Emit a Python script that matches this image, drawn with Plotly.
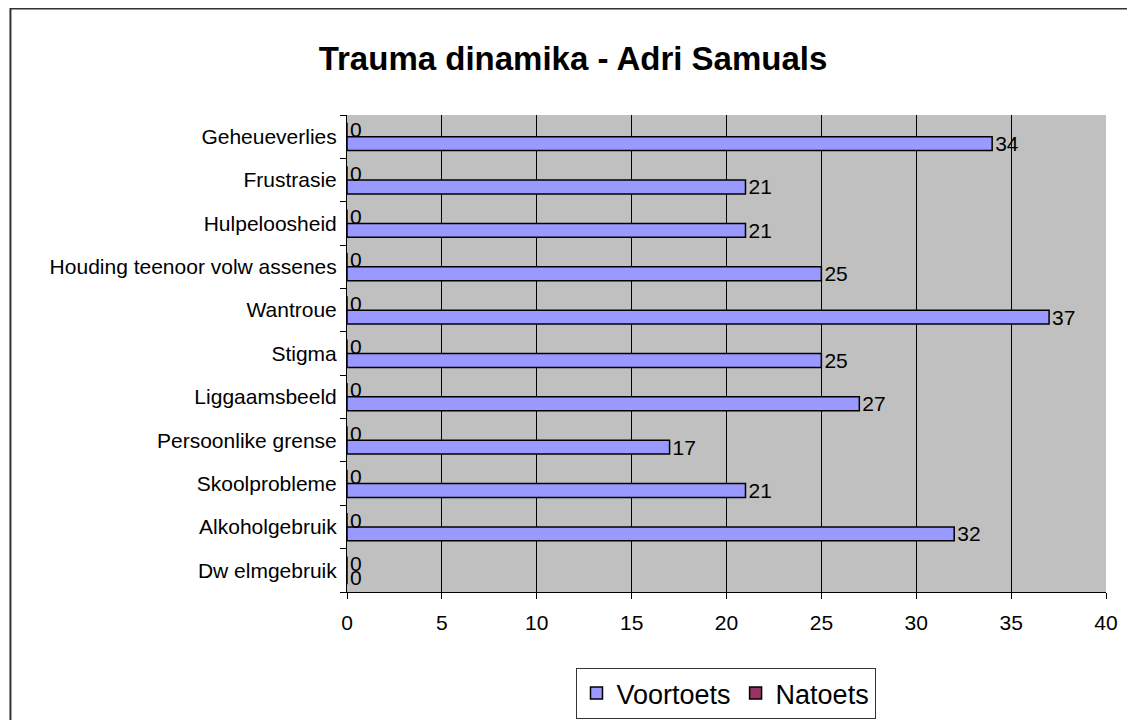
import plotly.graph_objects as go

categories = ["Geheueverlies", "Frustrasie", "Hulpeloosheid", "Houding teenoor volw assenes",
              "Wantroue", "Stigma", "Liggaamsbeeld", "Persoonlike grense",
              "Skoolprobleme", "Alkoholgebruik", "Dw elmgebruik"]
voortoets = [34, 21, 21, 25, 37, 25, 27, 17, 21, 32, 0]
natoets = [0, 0, 0, 0, 0, 0, 0, 0, 0, 0, 0]
x_ticks = [0, 5, 10, 15, 20, 25, 30, 35, 40]

OFF = 8  # page body offset
W, H = 1135 - OFF, 720 - OFF
L, R, T, B = 346.5 - OFF, 1106.5 - OFF, 115 - OFF, 592 - OFF
FONT = "Liberation Sans, Arial, sans-serif"

fig = go.Figure()
fig.add_trace(go.Bar(
    name="Voortoets", y=categories, x=voortoets, orientation="h",
    marker=dict(color="#9999FF", line=dict(color="black", width=1.5)),
    text=[str(v) for v in voortoets], textposition="outside", cliponaxis=False,
    textfont=dict(size=21, color="black", family=FONT), constraintext="none",
))
fig.add_trace(go.Bar(
    name="Natoets", y=categories, x=natoets, orientation="h",
    marker=dict(color="#993366", line=dict(color="black", width=1.5)),
    text=[str(v) for v in natoets], textposition="outside", cliponaxis=False,
    textfont=dict(size=21, color="black", family=FONT), constraintext="none",
))

pw, ph = R - L, B - T
fig.update_layout(
    width=W, height=H,
    margin=dict(l=L, r=W - R, t=T, b=H - B, autoexpand=False),
    paper_bgcolor="white", plot_bgcolor="#C0C0C0",
    barmode="group", bargap=0.36, bargroupgap=0,
    font=dict(family=FONT, size=21, color="black"),
    title=dict(text="<b>Trauma dinamika - Adri Samuals</b>", x=(573 - OFF) / W, xanchor="center",
               xref="container", yref="container", y=1 - (58 - OFF) / H, yanchor="middle",
               font=dict(size=33, family=FONT, color="black")),
    legend=dict(orientation="h", x=(725.5 - OFF - L) / pw, xanchor="center",
                y=(B - (668 - OFF)) / ph, yanchor="top", bordercolor="#333333", borderwidth=1,
                font=dict(size=27, family=FONT), traceorder="normal"),
    showlegend=True,
    shapes=[dict(type="rect", xref="paper", yref="paper",
                 x0=(1.5 - L) / pw, x1=(W + 20 - L) / pw,
                 y0=(B - (H + 20)) / ph, y1=(B - 0.5) / ph,
                 line=dict(color="#333333", width=2), fillcolor="rgba(0,0,0,0)", layer="below")],
)
fig.update_xaxes(range=[0, 40], tickvals=x_ticks, ticks="outside", ticklen=6, tickcolor="black",
                 showgrid=True, gridcolor="black", gridwidth=1, showline=True, linecolor="black",
                 zeroline=False, tickfont=dict(size=21), ticklabelstandoff=6)
fig.update_yaxes(type="category", categoryorder="array", categoryarray=categories[::-1],
                 ticks="outside", tickson="boundaries", ticklen=6, tickcolor="black",
                 showline=True, linecolor="black", showgrid=False, tickfont=dict(size=21),
                 ticklabelstandoff=5)

fig.write_html("out.html")
